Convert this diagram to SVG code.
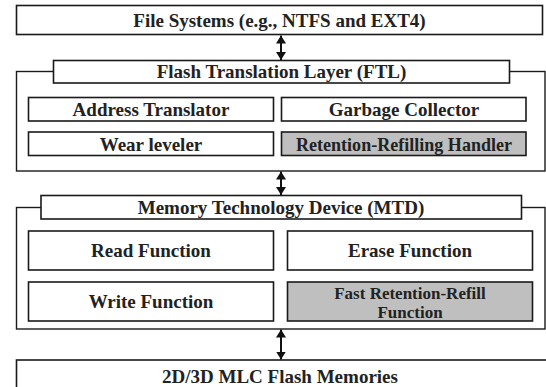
<svg xmlns="http://www.w3.org/2000/svg" width="546" height="387" viewBox="0 0 546 387">
<defs>
<marker id="ah" viewBox="0 0 8 10" refX="8" refY="5" markerUnits="userSpaceOnUse" markerWidth="8" markerHeight="10" orient="auto-start-reverse">
<path d="M0,0 L8,5 L0,10 z" fill="#111"/>
</marker>
<style>
.b{fill:#fff;stroke:#1a1a1a;stroke-width:1.6}
.g{fill:#bfbfbf;stroke:#1a1a1a;stroke-width:1.6}
.c{fill:none;stroke:#1a1a1a;stroke-width:1.4}
text{font-family:"Liberation Serif","Times New Roman",serif;font-weight:bold;font-size:19px;fill:#222;text-anchor:middle}
.s{font-size:17px}
.l{stroke:#111;stroke-width:2;marker-start:url(#ah);marker-end:url(#ah)}
</style>
</defs>
<rect width="546" height="387" fill="#fff"/>
<g id="file-systems"><rect class="b" x="16.5" y="5.5" width="526" height="29"/><text x="279.5" y="26.5">File Systems (e.g., NTFS and EXT4)</text></g>
<g id="ftl"><rect class="c" x="16.5" y="71.5" width="528.5" height="99.5"/><rect class="b" x="53.5" y="60.5" width="456" height="22.5"/><text x="281.5" y="78">Flash Translation Layer (FTL)</text></g>
<g id="address-translator"><rect class="b" x="28.5" y="97.5" width="245" height="23.5"/><text x="151" y="115.5">Address Translator</text></g>
<g id="garbage-collector"><rect class="b" x="281.5" y="97.5" width="244.5" height="23.5"/><text x="404" y="115.5">Garbage Collector</text></g>
<g id="wear-leveler"><rect class="b" x="28.5" y="132" width="245" height="23.5"/><text x="151" y="150.5">Wear leveler</text></g>
<g id="retention-refilling-handler"><rect class="g" x="281.5" y="132" width="244.5" height="23.5"/><text x="404" y="150.5" textLength="216" lengthAdjust="spacingAndGlyphs">Retention-Refilling Handler</text></g>
<g id="mtd"><rect class="c" x="16.5" y="207.5" width="528.5" height="121.5"/><rect class="b" x="41" y="195.5" width="480.5" height="23.5"/><text x="281" y="213.5">Memory Technology Device (MTD)</text></g>
<g id="read-function"><rect class="b" x="28.5" y="231" width="245" height="39"/><text x="151" y="257">Read Function</text></g>
<g id="erase-function"><rect class="b" x="287.5" y="231" width="245" height="39"/><text x="410" y="257">Erase Function</text></g>
<g id="write-function"><rect class="b" x="28.5" y="282" width="245" height="39"/><text x="151" y="308">Write Function</text></g>
<g id="fast-retention-refill"><rect class="g" x="287.5" y="282" width="245" height="39"/><text class="s" x="410" y="298.5">Fast Retention-Refill</text><text class="s" x="410" y="317.5">Function</text></g>
<g id="flash-memories"><rect class="b" x="16.5" y="360" width="540" height="40"/><text x="280" y="382.5">2D/3D MLC Flash Memories</text></g>
<g id="connectors">
<line class="l" x1="281" y1="35.5" x2="281" y2="60"/>
<line class="l" x1="281" y1="171.5" x2="281" y2="195"/>
<line class="l" x1="281" y1="329.5" x2="281" y2="359.5"/>
</g>
</svg>
